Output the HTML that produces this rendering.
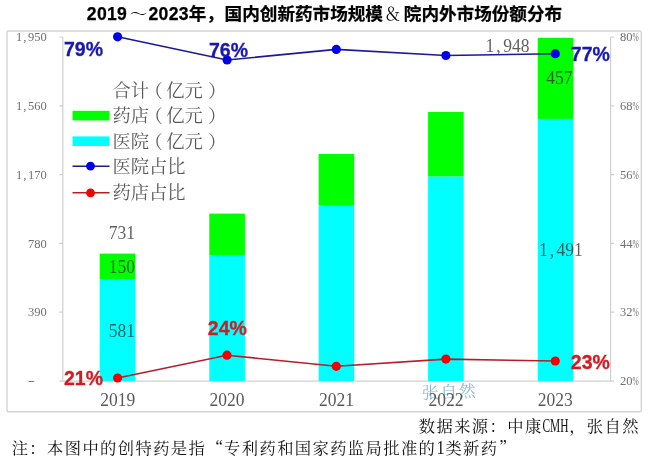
<!DOCTYPE html>
<html lang="zh">
<head>
<meta charset="utf-8">
<title>chart</title>
<style>
html,body{margin:0;padding:0;background:#fff;}
body{width:650px;height:464px;overflow:hidden;position:relative;}
svg{position:absolute;left:0;top:0;display:block;}
.title{font-family:"Liberation Sans","Noto Sans CJK SC",sans-serif;font-weight:bold;font-size:17.6px;fill:#000;stroke:#000;stroke-width:0.25px;}
.tsym{font-family:"Liberation Serif","Noto Serif CJK SC",serif;font-weight:normal;font-size:17.5px;fill:#000;}
.ax{font-family:"Liberation Serif","Noto Serif CJK SC",serif;font-size:12.5px;fill:#707070;}
.cat{font-family:"Liberation Serif","Noto Serif CJK SC",serif;font-size:17.5px;fill:#595959;}
.leg{font-family:"Liberation Serif","Noto Serif CJK SC",serif;font-size:18.3px;fill:#595959;}
.dl{font-family:"Liberation Serif","Noto Serif CJK SC",serif;font-size:17.5px;fill:#333;fill-opacity:0.78;}
.pb{font-family:"Liberation Sans",sans-serif;font-weight:bold;font-size:19.5px;fill:#1818b0;stroke:#1818b0;stroke-width:0.3px;}
.pr{font-family:"Liberation Sans",sans-serif;font-weight:bold;font-size:19.5px;fill:#d21c22;stroke:#d21c22;stroke-width:0.3px;}
.foot{font-family:"Liberation Serif","Noto Serif CJK SC",serif;font-size:16.3px;letter-spacing:1.4px;fill:#111;}
.cjkq{font-family:"Noto Serif CJK SC",serif;}
.wm{font-family:"Liberation Serif","Noto Serif CJK SC",serif;font-size:17px;fill:#6aa8d8;letter-spacing:1.5px;}
</style>
</head>
<body>
<svg width="650" height="464" viewBox="0 0 650 464">
<rect x="0" y="0" width="650" height="464" fill="#fff"/>
<!-- title -->
<text class="title" x="86.8" y="20" style="letter-spacing:0.3px">2019</text>
<text class="tsym" x="138.6" y="20" text-anchor="middle">～</text>
<text class="title" x="148.5" y="20"><tspan style="letter-spacing:0.3px">2023</tspan>年，</text>
<text class="title" x="224.6" y="20">国内创新药市场规模</text>
<text class="tsym" x="392.6" y="20" text-anchor="middle">＆</text>
<text class="title" x="403.8" y="20">院内外市场份额分布</text>
<!-- chart frame -->
<rect x="7" y="31" width="634.3" height="380.8" rx="1.5" fill="none" stroke="#d4d4d4" stroke-width="1.4"/>
<!-- axes -->
<g stroke="#cfcfcf" stroke-width="1.2" fill="none">
<path d="M62.8 37V381.2M610.6 37V381.2M62.8 381.2H610.6"/>
<path d="M59.3 37H62.8M59.3 105.8H62.8M59.3 174.6H62.8M59.3 243.4H62.8M59.3 312.2H62.8M59.3 381.2H62.8"/>
<path d="M610.6 37H614M610.6 105.8H614M610.6 174.6H614M610.6 243.4H614M610.6 312.2H614M610.6 381.2H614"/>
</g>
<!-- bars -->
<g>
<rect x="99.7" y="279" width="35.6" height="102" fill="#00ffff"/>
<rect x="99.7" y="253.6" width="35.6" height="25.4" fill="#00ff00"/>
<rect x="209.3" y="255.4" width="35.6" height="125.6" fill="#00ffff"/>
<rect x="209.3" y="213.6" width="35.6" height="41.8" fill="#00ff00"/>
<rect x="318.6" y="205" width="35.6" height="176" fill="#00ffff"/>
<rect x="318.6" y="153.9" width="35.6" height="51.1" fill="#00ff00"/>
<rect x="428.1" y="176.4" width="35.6" height="204.6" fill="#00ffff"/>
<rect x="428.1" y="111.9" width="35.6" height="64.5" fill="#00ff00"/>
<rect x="537.7" y="118.9" width="35.6" height="262.1" fill="#00ffff"/>
<rect x="537.7" y="37.8" width="35.6" height="81.1" fill="#00ff00"/>
</g>
<!-- left axis labels -->
<g class="ax" text-anchor="end">
<text x="46.8" y="41.2">1<tspan dx="1">,</tspan><tspan dx="1.6">950</tspan></text>
<text x="46.8" y="110">1<tspan dx="1">,</tspan><tspan dx="1.6">560</tspan></text>
<text x="46.8" y="178.8">1<tspan dx="1">,</tspan><tspan dx="1.6">170</tspan></text>
<text x="46.8" y="247.6">780</text>
<text x="46.8" y="316.4">390</text>
<text x="35" y="385.2" textLength="7" lengthAdjust="spacingAndGlyphs">-</text>
</g>
<g class="ax" text-anchor="start">
<text x="620" y="41.2">80</text><text x="632.5" y="41.2" textLength="6.3" lengthAdjust="spacingAndGlyphs">%</text>
<text x="620" y="110">68</text><text x="632.5" y="110" textLength="6.3" lengthAdjust="spacingAndGlyphs">%</text>
<text x="620" y="178.8">56</text><text x="632.5" y="178.8" textLength="6.3" lengthAdjust="spacingAndGlyphs">%</text>
<text x="620" y="247.6">44</text><text x="632.5" y="247.6" textLength="6.3" lengthAdjust="spacingAndGlyphs">%</text>
<text x="620" y="316.4">32</text><text x="632.5" y="316.4" textLength="6.3" lengthAdjust="spacingAndGlyphs">%</text>
<text x="620" y="385.2">20</text><text x="632.5" y="385.2" textLength="6.3" lengthAdjust="spacingAndGlyphs">%</text>
</g>
<!-- watermark -->
<text class="wm" x="449.5" y="398" text-anchor="middle" transform="rotate(-2.3 449 392)" opacity="0.8">张自然</text>
<!-- category labels -->
<g class="cat" text-anchor="middle" transform="scale(1,1.09)">
<text x="117.8" y="372.75">2019</text>
<text x="227.1" y="372.75">2020</text>
<text x="336.5" y="372.75">2021</text>
<text x="445.9" y="372.75">2022</text>
<text x="555.3" y="372.75">2023</text>
</g>
<!-- data labels -->
<g class="dl" text-anchor="middle" transform="scale(1,1.09)">
<text x="122" y="218.99">731</text>
<text x="122" y="250.18">150</text>
<text x="122" y="308.90">581</text>
<text x="507.5" y="47.89">1<tspan dx="2">,</tspan><tspan dx="2.4">948</tspan></text>
<text x="559.5" y="76.88">457</text>
<text x="560.8" y="235.32">1<tspan dx="2">,</tspan><tspan dx="2.4">491</tspan></text>
</g>
<!-- lines -->
<polyline points="117.6,36.8 227.1,60 336.3,49.4 445.9,55.5 555.3,53.7" fill="none" stroke="#1a1a98" stroke-width="1.6"/>
<g fill="#0000e8">
<circle cx="117.6" cy="36.8" r="4.6"/><circle cx="227.1" cy="60" r="4.6"/><circle cx="336.3" cy="49.4" r="4.6"/><circle cx="445.9" cy="55.5" r="4.6"/><circle cx="555.3" cy="53.7" r="4.6"/>
</g>
<polyline points="117.6,378 227,355.2 336.3,366.3 445.9,359.1 555.3,361" fill="none" stroke="#b81c28" stroke-width="1.6"/>
<g fill="#f40000">
<circle cx="117.6" cy="378" r="4.6"/><circle cx="227" cy="355.2" r="4.6"/><circle cx="336.3" cy="366.3" r="4.6"/><circle cx="445.9" cy="359.1" r="4.6"/><circle cx="555.3" cy="361" r="4.6"/>
</g>
<!-- pct labels -->
<text class="pb" x="64" y="56">79%</text>
<text class="pb" x="209" y="56.5">76%</text>
<text class="pb" x="570.8" y="61">77%</text>
<text class="pr" x="64" y="385.2">21%</text>
<text class="pr" x="207.8" y="334.6">24%</text>
<text class="pr" x="570.8" y="368.6">23%</text>
<!-- legend -->
<g class="leg">
<text x="112.5" y="96.5">合计<tspan dx="-4.5">（</tspan><tspan dx="3.5">亿元</tspan><tspan dx="5">）</tspan></text>
<text x="112.5" y="122">药店<tspan dx="-4.5">（</tspan><tspan dx="3.5">亿元</tspan><tspan dx="5">）</tspan></text>
<text x="112.5" y="147.5">医院<tspan dx="-4.5">（</tspan><tspan dx="3.5">亿元</tspan><tspan dx="5">）</tspan></text>
<text x="112.5" y="172.5">医院占比</text>
<text x="112.5" y="199">药店占比</text>
</g>
<rect x="72.5" y="110.8" width="37" height="9.6" fill="#00ff00"/>
<rect x="72.5" y="136.4" width="37" height="9.6" fill="#00ffff"/>
<path d="M72.5 166.2H109.5" stroke="#1a1a98" stroke-width="1.6"/>
<circle cx="90.5" cy="166.2" r="4.4" fill="#0000e8"/>
<path d="M72.5 192.8H109.5" stroke="#b81c28" stroke-width="1.6"/>
<circle cx="90.5" cy="192.8" r="4.4" fill="#f40000"/>
<!-- footer -->
<text class="foot" x="418.8" y="431.8">数据来源：中康</text>
<text class="foot" x="542.4" y="431.8" textLength="26" lengthAdjust="spacingAndGlyphs" style="letter-spacing:0;font-size:18px">CMH</text>
<text class="foot" x="569.2" y="431.8">，张自然</text>
<text class="foot" x="11.7" y="454">注：本图中的创特药是指</text>
<text class="foot cjkq" x="207" y="454">“</text>
<text class="foot" x="224.1" y="454">专利药和国家药监局批准的</text>
<text class="foot" x="436.6" y="454" transform="translate(0 454) scale(1 1.12) translate(0 -454)">1</text>
<text class="foot" x="445.4" y="454">类新药</text>
<text class="foot cjkq" x="499" y="454">”</text>
</svg>
</body>
</html>
